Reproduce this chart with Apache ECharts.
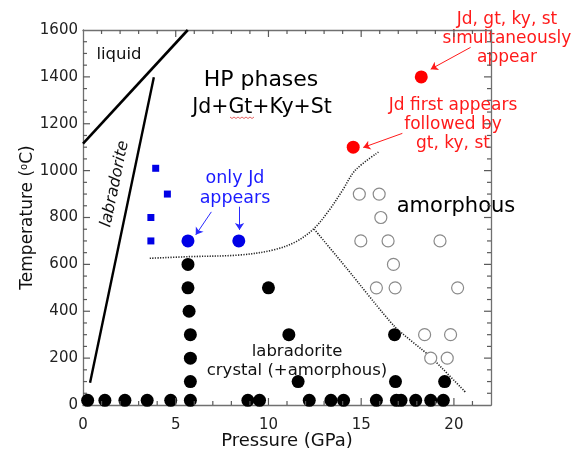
<!DOCTYPE html>
<html><head><meta charset="utf-8">
<script src="https://cdn.jsdelivr.net/npm/echarts@6/dist/echarts.min.js"></script>
<style>html,body{margin:0;padding:0;background:#fff}#c{width:580px;height:453px}</style>
</head><body><div id="c"></div>
<script>
// ---- data ----
const xRange = [0, 22];
const yRange = [0, 1600];
const xMajorStep = 5, xMinorStep = 1;
const yMajorStep = 200, yMinorStep = 50;
const xTitle = 'Pressure (GPa)';

// black filled: labradorite crystal (+amorphous)
const crystalPts = [
  [0.25,20],[1.18,20],[2.26,20],[3.46,20],[4.73,20],[5.79,20],[8.89,20],[9.52,20],
  [12.2,20],[13.37,20],[14.05,20],[15.82,20],[16.9,20],[17.15,20],[17.94,20],[18.75,20],[19.43,20],
  [5.66,600],[5.66,500],[5.72,400],[5.79,300],[5.79,200],[5.79,100],
  [10.0,500],[11.1,300],[11.6,100],[16.8,300],[16.85,100],[19.5,100]
];
// open circles: amorphous
const amorphousPts = [
  [14.9,900],[15.97,900],[16.06,800],[14.98,700],[16.45,700],[19.25,700],
  [16.74,600],[15.82,500],[16.83,500],[20.2,500],[18.42,300],[19.82,300],[18.75,200],[19.64,200]
];
// blue squares
const blueSquarePts = [[3.92,1010],[4.55,900],[3.66,800],[3.66,700]];
// blue circles: only Jd appears
const jdOnlyPts = [[5.66,700],[8.4,700]];
// red: HP phases
const hpPts = [[14.57,1100],[18.24,1400]];

// boundaries
const liquidLine = [[0,1115],[5.65,1600]];
const labradoriteLine = [[0.38,95],[3.82,1398]];
const hpBoundary = [[3.6,626],[5.75,633],[8.44,640],[10.23,661],[11.49,697],[12.47,754],[13.28,832],[14.0,917],[14.7,1003],[15.97,1081]];
const amorphBoundary = [[12.47,750],[14.2,585],[16.8,335],[18.75,205],[20.63,54]];

// arrows (annotation start -> end, in data units)
const blueArrows = [[[6.92,824],[6.08,726]],[[8.44,846],[8.44,747]]];
const redArrows = [[[20.9,1526],[18.75,1433]],[[17.22,1159],[15.11,1099]]];

// ---- chart ----
const FF = '"DejaVu Sans", sans-serif';
const axisCol = '#707070';
const tickCol = '#5a5a5a';
const chart = echarts.init(document.getElementById('c'));

const xTickVals = [];
for (let v = xRange[0] + xMinorStep; v < xRange[1]; v += xMinorStep) xTickVals.push([v, yRange[0]]);
const yTickVals = [];
for (let v = yRange[0] + yMinorStep; v < yRange[1]; v += yMinorStep) yTickVals.push([xRange[0], v]);

function xAx(pos, withLabel) {
  return {
    type:'value', min:xRange[0], max:xRange[1], interval:xMajorStep, position:pos, gridIndex:0,
    axisLine:{show:true, onZero:false, lineStyle:{color:axisCol, width:1.3}},
    axisTick:{show:false},
    splitLine:{show:false},
    axisLabel:{show:withLabel, margin:13, fontSize:15, fontFamily:FF, color:'#222',
      formatter: v => (v % xMajorStep === 0 ? String(v) : '')},
    name: withLabel ? xTitle : '', nameLocation:'middle', nameGap:27, nameMoveOverlap:false,
    nameTextStyle:{fontSize:18, fontFamily:FF, color:'#111'}
  };
}
function yAx(pos, withLabel) {
  return {
    type:'value', min:yRange[0], max:yRange[1], interval:yMajorStep, position:pos, gridIndex:0,
    axisLine:{show:true, onZero:false, lineStyle:{color:axisCol, width:1.3}},
    axisTick:{show:false}, minorTick:{show:false},
    splitLine:{show:false}, minorSplitLine:{show:false},
    axisLabel:{show:withLabel, margin:5, fontSize:15, fontFamily:FF, color:'#222',
      formatter: v => String(v)},
    name: withLabel ? 'Temperature ({sup|o}C)' : '', nameLocation:'middle', nameGap:47, nameMoveOverlap:false,
    nameTextStyle:{fontSize:17, fontFamily:FF, color:'#111',
      rich:{sup:{fontSize:10, fontFamily:FF, color:'#111', verticalAlign:'top', padding:[0,0,6,0]}}}
  };
}

// tick segments drawn through the axes' own scales (converted after layout)
function tickGraphics() {
  const els = [];
  const bl = chart.convertToPixel({gridIndex:0}, [xRange[0], yRange[0]]);
  const tr = chart.convertToPixel({gridIndex:0}, [xRange[1], yRange[1]]);
  const seg = (x1,y1,x2,y2) => ({type:'line', silent:true, z:10, shape:{x1,y1,x2,y2}, style:{stroke:tickCol, lineWidth:1.2}});
  xTickVals.forEach(d => {
    const px = chart.convertToPixel({gridIndex:0}, [d[0], yRange[0]])[0];
    const len = (d[0] % xMajorStep === 0) ? 7 : 4;
    els.push(seg(px, bl[1], px, bl[1] - len));
    els.push(seg(px, tr[1], px, tr[1] + len));
  });
  yTickVals.forEach(d => {
    const py = chart.convertToPixel({gridIndex:0}, [xRange[0], d[1]])[1];
    const len = (d[1] % yMajorStep === 0) ? 7 : 4;
    els.push(seg(bl[0], py, bl[0] + len, py));
    els.push(seg(tr[0], py, tr[0] - len, py));
  });
  return els;
}

const annotations = [
    {type:'text', x:119, y:55, style:{text:'liquid', fontSize:16.5, fontFamily:FF, fill:'#111', align:'center', verticalAlign:'middle'}},
    {type:'text', x:115, y:184, rotation:1.365, style:{text:'labradorite', fontSize:16, fontStyle:'italic', fontFamily:FF, fill:'#111', align:'center', verticalAlign:'middle'}},
    {type:'text', x:261, y:80, style:{text:'HP phases', fontSize:22, fontFamily:FF, fill:'#000', align:'center', verticalAlign:'middle'}},
    {type:'text', x:262, y:108, style:{text:'Jd+Gt+Ky+St', fontSize:20.5, fontFamily:FF, fill:'#000', align:'center', verticalAlign:'middle'}},
    {type:'polyline', shape:{points:[[230,117],[232,118.5],[234,117],[236,118.5],[238,117],[240,118.5],[242,117],[244,118.5],[246,117],[248,118.5],[250,117],[252,118.5],[254,117]]}, style:{stroke:'#e04040', lineWidth:0.8, fill:null}},
    {type:'text', x:235, y:188, style:{text:'only Jd\nappears', fontSize:17.5, lineHeight:20, fontFamily:FF, fill:'#1a1aff', align:'center', verticalAlign:'middle'}},
    {type:'text', x:507, y:39, style:{text:'Jd, gt, ky, st\nsimultaneously\nappear', fontSize:17, lineHeight:19, fontFamily:FF, fill:'#ff1a1a', align:'center', verticalAlign:'middle'}},
    {type:'text', x:453, y:125, style:{text:'Jd first appears\nfollowed by\ngt, ky, st', fontSize:17, lineHeight:19, fontFamily:FF, fill:'#ff1a1a', align:'center', verticalAlign:'middle'}},
    {type:'text', x:456, y:207, style:{text:'amorphous', fontSize:21, fontFamily:FF, fill:'#000', align:'center', verticalAlign:'middle'}},
    {type:'text', x:297, y:361, style:{text:'labradorite\ncrystal (+amorphous)', fontSize:16.5, lineHeight:19, fontFamily:FF, fill:'#111', align:'center', verticalAlign:'middle'}}
];

const option = {
  animation:false,
  backgroundColor:'#fff',
  grid:{left:83, right:89, top:30, bottom:48, containLabel:false, outerBoundsMode:'none'},
  xAxis:[ xAx('bottom',true), xAx('top',false) ],
  yAxis:[ yAx('left',true), yAx('right',false) ],
  series:[
    {type:'line', data:liquidLine, showSymbol:false, lineStyle:{color:'#000', width:2.6}, z:3},
    {type:'line', data:labradoriteLine, showSymbol:false, lineStyle:{color:'#000', width:2.4}, z:3},
    {type:'line', data:hpBoundary, smooth:0.35, showSymbol:false, lineStyle:{color:'#222', width:1.6, type:[1.2,1.4]}, z:2},
    {type:'line', data:amorphBoundary, smooth:0.2, showSymbol:false, lineStyle:{color:'#222', width:1.6, type:[1.2,1.4]}, z:2},
    {type:'scatter', data:crystalPts, symbol:'circle', symbolSize:13, itemStyle:{color:'#000', opacity:1}, z:4},
    {type:'scatter', data:amorphousPts, symbol:'circle', symbolSize:12, itemStyle:{color:'#fff', borderColor:'#8a8a8a', borderWidth:1.2, opacity:1}, z:4},
    {type:'scatter', data:blueSquarePts, symbol:'rect', symbolSize:7, itemStyle:{color:'#0000e6', opacity:1}, z:4},
    {type:'scatter', data:jdOnlyPts, symbol:'circle', symbolSize:13, itemStyle:{color:'#0000e6', opacity:1}, z:4},
    {type:'scatter', data:hpPts, symbol:'circle', symbolSize:13, itemStyle:{color:'#ff0000', opacity:1}, z:4},
    {type:'lines', coordinateSystem:'cartesian2d', symbol:['none','arrow'], symbolSize:7,
      data: blueArrows.map(c => ({coords:c})), lineStyle:{color:'#2a2aff', width:1, opacity:1, curveness:0}, z:5},
    {type:'lines', coordinateSystem:'cartesian2d', symbol:['none','arrow'], symbolSize:7,
      data: redArrows.map(c => ({coords:c})), lineStyle:{color:'#ff1a1a', width:1, opacity:1, curveness:0}, z:5}
  ],
  graphic: annotations
};
chart.setOption(option);
chart.setOption({graphic: annotations.concat(tickGraphics())}, {replaceMerge:['graphic']});
</script>
</body></html>
